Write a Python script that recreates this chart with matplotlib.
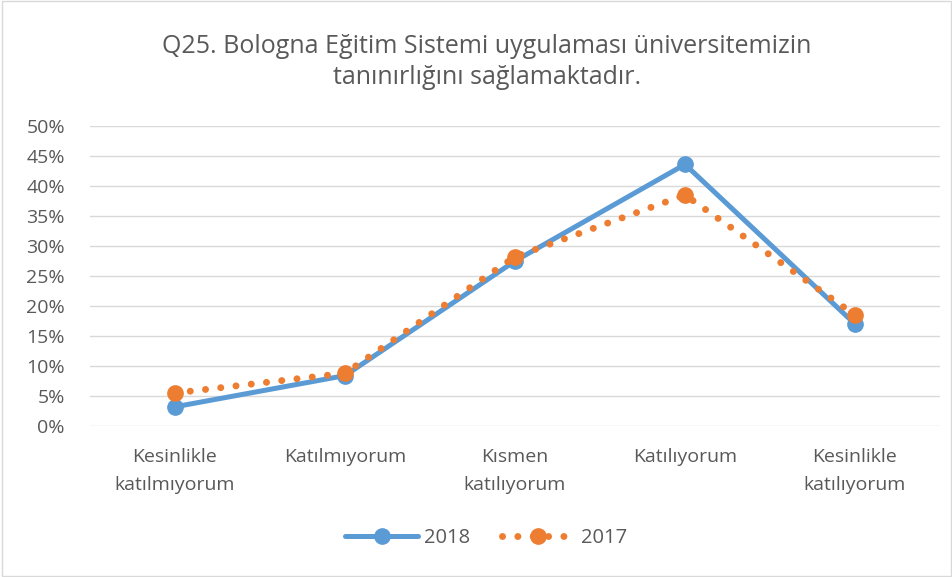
import matplotlib.pyplot as plt
from matplotlib.patches import Rectangle

plt.rcParams['font.family'] = ['Open Sans', 'DejaVu Sans']

categories = ["Kesinlikle\nkatılmıyorum", "Katılmıyorum", "Kısmen\nkatılıyorum",
              "Katılıyorum", "Kesinlikle\nkatılıyorum"]
values_2018 = [3.2, 8.4, 27.5, 43.6, 17.0]
values_2017 = [5.5, 8.8, 28.2, 38.5, 18.5]
y_ticks = [0, 5, 10, 15, 20, 25, 30, 35, 40, 45, 50]

blue = '#5b9bd5'
orange = '#ed7d31'
text_gray = '#595959'

fig = plt.figure(figsize=(9.53, 5.77), dpi=100)
fig.patches.append(Rectangle((0.002, 0.002), 0.996, 0.996, transform=fig.transFigure,
                             fill=False, edgecolor='#d9d9d9', linewidth=1))

ax = fig.add_axes([90 / 953, 151 / 577, 850 / 953, 300 / 577])
x = list(range(len(categories)))

ax.plot(x, values_2018, color=blue, linewidth=3.6, marker='o', markersize=11,
        label='2018', zorder=3, solid_capstyle='round')
ax.plot(x, values_2017, color=orange, linewidth=5, linestyle=(0, (0.01, 2.2)),
        dash_capstyle='round', marker='o', markersize=11, label='2017', zorder=4)

ax.set_xlim(-0.5, len(categories) - 0.5)
ax.set_ylim(0, 50)
ax.set_yticks(y_ticks)
ax.set_yticklabels([f"{t}%" for t in y_ticks])
ax.set_xticks(x)
ax.set_xticklabels(categories, linespacing=1.7)
ax.tick_params(axis='both', length=0, labelsize=14, labelcolor=text_gray)
ax.tick_params(axis='x', pad=16)
ax.tick_params(axis='y', pad=18)
ax.grid(axis='y', color='#d9d9d9', linewidth=1)
ax.set_axisbelow(True)
for s in ax.spines.values():
    s.set_visible(False)

fig.text(0.511, 0.893, "Q25. Bologna Eğitim Sistemi uygulaması üniversitemizin\ntanınırlığını sağlamaktadır.",
         ha='center', va='center', fontsize=18, color=text_gray, linespacing=1.3)

fig.legend(loc='center', bbox_to_anchor=(0.51, 0.068), ncol=2, frameon=False,
           fontsize=14.5, labelcolor=text_gray, handlelength=3.6, columnspacing=1.6,
           handletextpad=0.3)

fig.savefig('out.png', dpi=100)
